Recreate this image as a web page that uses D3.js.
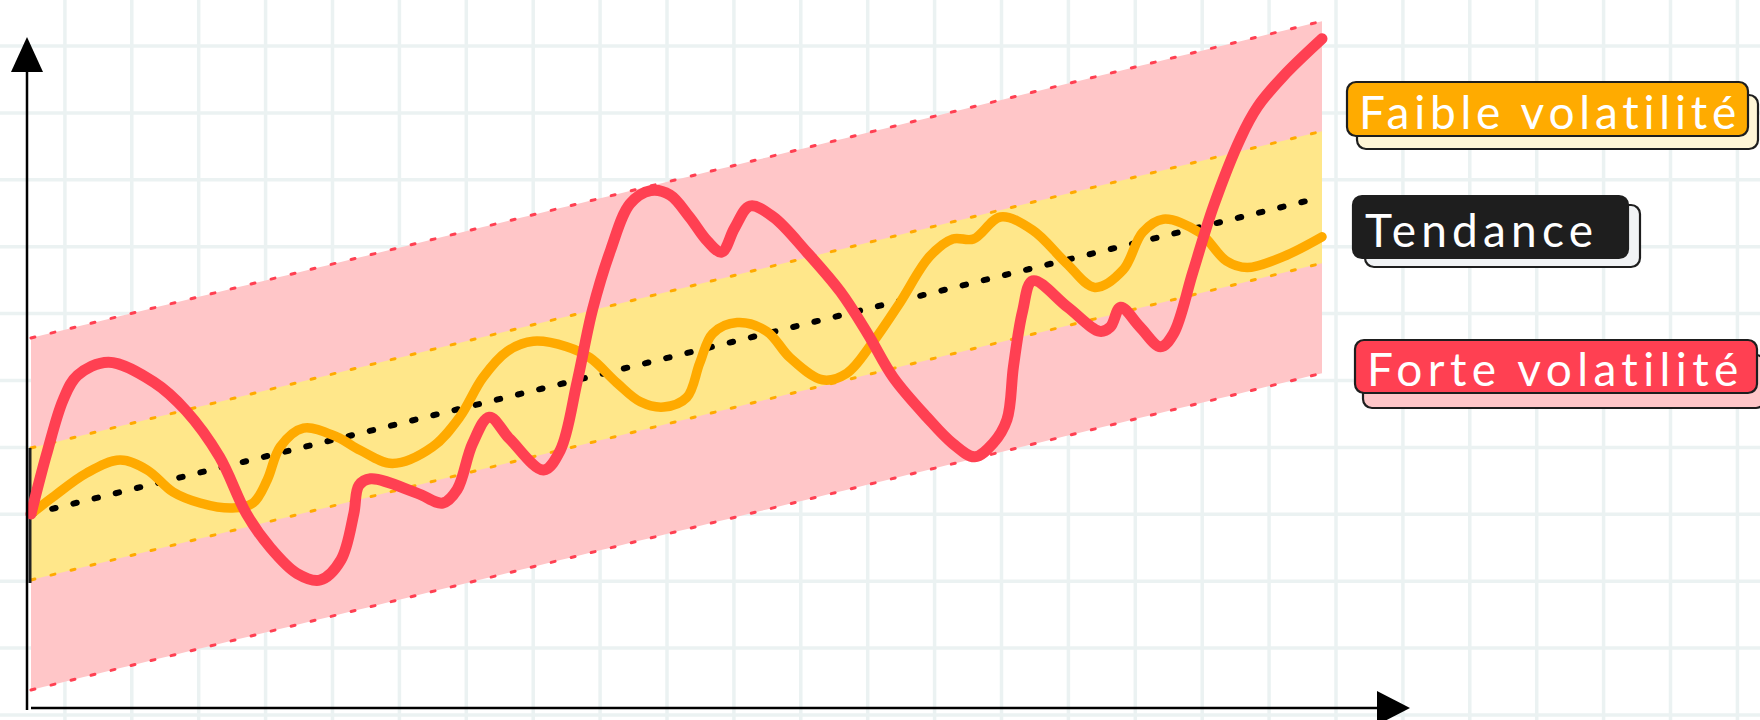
<!DOCTYPE html>
<html>
<head>
<meta charset="utf-8">
<script src="https://cdn.jsdelivr.net/npm/d3@7"></script>
<style>
  html, body { margin: 0; padding: 0; background: #ffffff; }
  svg { display: block; }
</style>
</head>
<body>
<svg id="chart" width="1760" height="720"></svg>
<script>
// ---------------- DATA ----------------
const trendX = [0, 100];
const trendY = [0, 14.4];
const lowVolHalfWidth = 3;    // yellow band ±
const highVolHalfWidth = 8;   // red band ±

// Faible volatilité (orange curve)
const lowX = [0, 1.7, 4.3, 6.9, 9, 11, 13.1, 15.6, 17.2, 18.3, 19.3, 21.1, 23.7, 25.5, 28, 31.1, 33.2, 35, 36.9, 38.9, 41.5, 43.3, 45.4, 47.2, 49, 50.8, 51.8, 52.8, 54.7, 57, 58.8, 61.3, 63.2, 65.2, 67.3, 69.6, 71.4, 73, 75.1, 77.6, 80.2, 82.4, 84.6, 86.1, 87.7, 90.5, 92.6, 94.2, 97, 100];
const lowY = [0, 0.77, 1.86, 2.45, 2.0, 1.0, 0.5, 0.27, 0.5, 1.55, 3.05, 3.9, 3.5, 2.9, 2.3, 3.05, 4.4, 6.2, 7.4, 7.85, 7.6, 7.1, 5.95, 5.1, 4.86, 5.3, 6.86, 8.2, 8.7, 8.3, 7.1, 6.1, 6.4, 7.8, 9.6, 11.7, 12.5, 12.5, 13.5, 12.9, 11.4, 10.3, 11.1, 12.8, 13.4, 12.8, 11.5, 11.2, 11.7, 12.6];

// Forte volatilité (red curve)
const highX = [0, 1.2, 2.5, 3.6, 6, 9.5, 12, 14.6, 16.7, 18.5, 20.6, 22.4, 24, 25, 25.4, 26.3, 29.9, 31.9, 33, 34.2, 35.5, 37.1, 39.7, 41, 42.3, 43.5, 44.9, 46.4, 48, 49.5, 51, 52.4, 53.5, 54.5, 55.7, 57.5, 60.1, 62.7, 64.8, 66.8, 69.4, 71.4, 73.1, 74.5, 75.6, 76.1, 76.8, 77.6, 80.3, 82.8, 83.6, 84.4, 85.9, 87.5, 88.5, 90, 91.6, 93.7, 95, 97, 100];
const highY = [0, 2.7, 5.2, 6.3, 6.9, 6.0, 4.7, 2.6, 0, -1.5, -2.7, -3.0, -2.1, 0, 1.3, 1.6, 0.95, 0.5, 1.1, 3.2, 4.4, 3.4, 2.0, 2.9, 6.0, 9.3, 12.0, 14.1, 14.7, 14.5, 13.5, 12.4, 11.9, 13.0, 14.0, 13.5, 11.9, 10.1, 8.2, 6.2, 4.4, 3.2, 2.6, 3.2, 4.3, 6.7, 9.2, 10.6, 9.4, 8.3, 8.5, 9.4, 8.5, 7.6, 8.2, 11, 14, 17.1, 18.5, 19.9, 21.6];

const legendLabels = ["Faible volatilité", "Tendance", "Forte volatilité"];

// ---------------- SETUP ----------------
const W = 1760, H = 720;
const svg = d3.select("#chart");

const x = d3.scaleLinear().domain([0, 100]).range([31, 1322]);
const y = d3.scaleLinear().domain([-9, 23]).range([712, 8]);

const trend = d3.scaleLinear().domain(trendX).range(trendY);
const bandX = d3.range(0, 101, 1);

// ---------------- GRID ----------------
const gridStep = 66.9;
const grid = svg.append("g").attr("stroke", "#ebf2f2").attr("stroke-width", 3.5);
grid.selectAll("line.v").data(d3.range(-2, W + 10, gridStep)).join("line")
  .attr("x1", d => d).attr("x2", d => d).attr("y1", 0).attr("y2", H);
grid.selectAll("line.h").data(d3.range(46, H + 10, gridStep)).join("line")
  .attr("x1", 0).attr("x2", W).attr("y1", d => d).attr("y2", d => d);

// ---------------- BANDS ----------------
const area = (half) => d3.area()
  .x(d => x(d))
  .y0(d => y(trend(d) - half))
  .y1(d => y(trend(d) + half));

svg.append("path").datum(bandX).attr("d", area(highVolHalfWidth)).attr("fill", "#ffc6c8");
svg.append("path").datum(bandX).attr("d", area(lowVolHalfWidth)).attr("fill", "#ffe78a");

const edge = (offset) => d3.line().x(d => x(d)).y(d => y(trend(d) + offset));
[[highVolHalfWidth, "#ff4052"], [-highVolHalfWidth, "#ff4052"], [lowVolHalfWidth, "#ffaa00"], [-lowVolHalfWidth, "#ffaa00"]]
  .forEach(([off, col]) => {
    svg.append("path").datum(trendX).attr("d", edge(off))
      .attr("fill", "none").attr("stroke", col).attr("stroke-width", 3)
      .attr("stroke-linecap", "round").attr("stroke-dasharray", "4,16.6");
  });

// dark left edge of the yellow band
svg.append("line")
  .attr("x1", x(0) - 1).attr("x2", x(0) - 1)
  .attr("y1", y(trend(0) + lowVolHalfWidth)).attr("y2", y(trend(0) - lowVolHalfWidth) + 3)
  .attr("stroke", "#222").attr("stroke-width", 3);

// ---------------- TREND ----------------
svg.append("path").datum(trendX)
  .attr("d", d3.line().x(d => x(d)).y(d => y(trend(d))))
  .attr("fill", "none").attr("stroke", "#000").attr("stroke-width", 6)
  .attr("stroke-linecap", "round").attr("stroke-dasharray", "3.5,18.3");

// ---------------- CURVES ----------------
const curve = d3.line().curve(d3.curveCatmullRom.alpha(0.5)).x(d => x(d[0])).y(d => y(d[1]));
svg.append("path").datum(d3.zip(lowX, lowY)).attr("d", curve)
  .attr("fill", "none").attr("stroke", "#ffaa00").attr("stroke-width", 9.5)
  .attr("stroke-linecap", "round").attr("stroke-linejoin", "round");
svg.append("path").datum(d3.zip(highX, highY)).attr("d", curve)
  .attr("fill", "none").attr("stroke", "#ff4052").attr("stroke-width", 11)
  .attr("stroke-linecap", "round").attr("stroke-linejoin", "round");

// ---------------- AXES ----------------
const axes = svg.append("g");
axes.append("line").attr("x1", 27).attr("x2", 27).attr("y1", 60).attr("y2", 710)
  .attr("stroke", "#000").attr("stroke-width", 2.5);
axes.append("path").attr("d", "M27,37 L11,72 L43,72 Z").attr("fill", "#000");
axes.append("line").attr("x1", 31).attr("x2", 1385).attr("y1", 708).attr("y2", 708)
  .attr("stroke", "#000").attr("stroke-width", 2.5);
axes.append("path").attr("d", "M1410,708 L1377,691 L1377,725 Z").attr("fill", "#000");

// ---------------- LEGEND ----------------
const legend = [
  { label: legendLabels[0], fill: "#ffab00", shadow: "#fff6d6", x: 1347, y: 82, w: 401, h: 54, tw: 378, sdx: 10, sdy: 13 },
  { label: legendLabels[1], fill: "#1e1e1e", shadow: "#f1f3f5", x: 1353, y: 196, w: 275, h: 62, tw: 228, sdx: 12, sdy: 9 },
  { label: legendLabels[2], fill: "#ff4052", shadow: "#ffc6c8", x: 1355, y: 340, w: 402, h: 53, tw: 372, sdx: 8, sdy: 15 }
];
const lg = svg.append("g");
legend.forEach(l => {
  lg.append("rect").attr("x", l.x + l.sdx).attr("y", l.y + l.sdy).attr("width", l.w).attr("height", l.h)
    .attr("rx", 9).attr("fill", l.shadow).attr("stroke", "#1e1e1e").attr("stroke-width", 2.2);
  lg.append("rect").attr("x", l.x).attr("y", l.y).attr("width", l.w).attr("height", l.h)
    .attr("rx", 9).attr("fill", l.fill).attr("stroke", "#1e1e1e").attr("stroke-width", 2.2);
  const t = lg.append("text").text(l.label)
    .attr("x", l.x + 12).attr("y", l.y + l.h / 2 + 2)
    .attr("dominant-baseline", "central")
    .attr("fill", "#ffffff")
    .attr("font-family", "Lato, 'Open Sans', sans-serif")
    .attr("font-size", 46);
  const len = t.node().getComputedTextLength();
  const n = l.label.length;
  const ls = Math.max(0, (l.tw - len) / (n - 1));
  t.attr("letter-spacing", ls);
});
</script>
</body>
</html>
